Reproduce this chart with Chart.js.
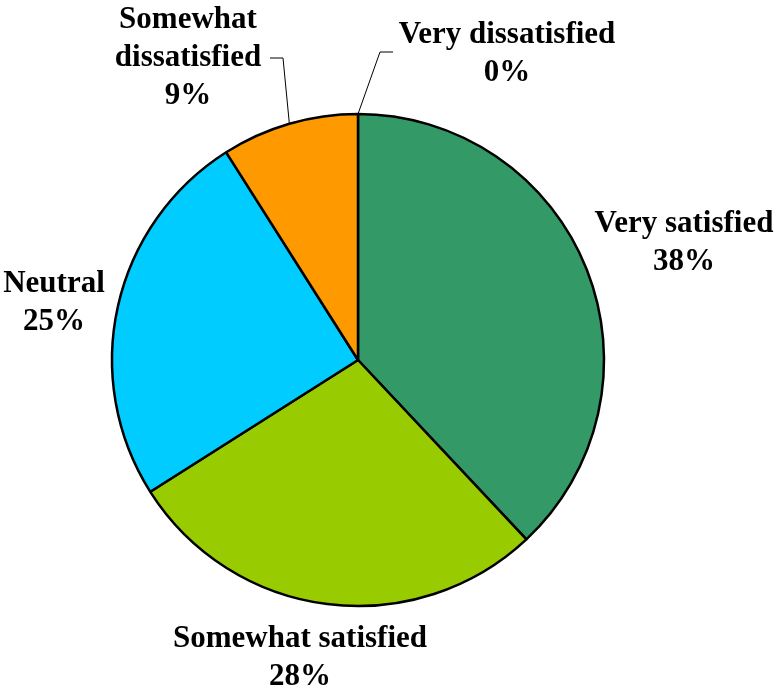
<!DOCTYPE html>
<html>
<head>
<meta charset="utf-8">
<script src="https://cdn.jsdelivr.net/npm/chart.js@4"></script>
<style>
  html, body { margin: 0; padding: 0; background: #fff; }
  #wrap { width: 776px; height: 693px; }
</style>
</head>
<body>
<div id="wrap"><canvas id="pie" width="776" height="693"></canvas></div>
<script>
const categories = ['Very satisfied', 'Somewhat satisfied', 'Neutral', 'Somewhat dissatisfied', 'Very dissatisfied'];
const percents = [38, 28, 25, 9, 0];
const sliceColors = ['#339966', '#99CC00', '#00CCFF', '#FF9900', '#FF0000'];

// label placement relative to the pie centre: text centre x, first baseline y
const labelOffsets = [
  { dx: 326, dy: -128 },
  { dx: -58, dy: 287 },
  { dx: -304, dy: -68 },
  { dx: -170, dy: -332 },
  { dx: 149, dy: -317 },
];
// leader lines: elbow point and end of the horizontal stub, relative to centre
const leaders = {
  3: { ex: -75, ey: -302, tx: -88 },
  4: { ex: 22, ey: -308, tx: 35 },
};

const FONT = 'bold 31px "Liberation Serif", "Times New Roman", serif';
const LINE_H = 38;

function labelLines(i) {
  const name = categories[i];
  const lines = name === 'Somewhat dissatisfied' ? ['Somewhat', 'dissatisfied'] : [name];
  lines.push(percents[i] + '%');
  return lines;
}

const outsideLabels = {
  id: 'outsideLabels',
  afterDraw(chart) {
    const { ctx } = chart;
    const arcs = chart.getDatasetMeta(0).data;
    const cx = arcs[0].x, cy = arcs[0].y;
    ctx.save();

    // leader lines from the slice edge to the label
    ctx.strokeStyle = '#000';
    ctx.lineWidth = 1;
    Object.keys(leaders).forEach(k => {
      const a = arcs[k];
      const mid = (a.startAngle + a.endAngle) / 2;
      const L = leaders[k];
      ctx.beginPath();
      ctx.moveTo(cx + Math.cos(mid) * a.outerRadius, cy + Math.sin(mid) * a.outerRadius);
      ctx.lineTo(cx + L.ex, cy + L.ey);
      ctx.lineTo(cx + L.tx, cy + L.ey);
      ctx.stroke();
    });

    ctx.font = FONT;
    ctx.fillStyle = '#000';
    ctx.textAlign = 'center';
    ctx.textBaseline = 'alphabetic';
    labelOffsets.forEach((o, i) => {
      labelLines(i).forEach((t, j) => {
        ctx.fillText(t, cx + o.dx, cy + o.dy + j * LINE_H);
      });
    });
    ctx.restore();
  }
};

new Chart(document.getElementById('pie'), {
  type: 'pie',
  data: {
    labels: categories,
    datasets: [{
      data: percents,
      backgroundColor: sliceColors,
      borderColor: '#000',
      borderWidth: 2.5,
      hoverOffset: 0,
    }],
  },
  options: {
    responsive: false,
    animation: false,
    events: [],
    radius: 246,
    layout: { padding: { left: 111, right: 171, top: 113, bottom: 86 } },
    plugins: {
      legend: { display: false },
      tooltip: { enabled: false },
    },
  },
  plugins: [outsideLabels],
});
</script>
</body>
</html>
